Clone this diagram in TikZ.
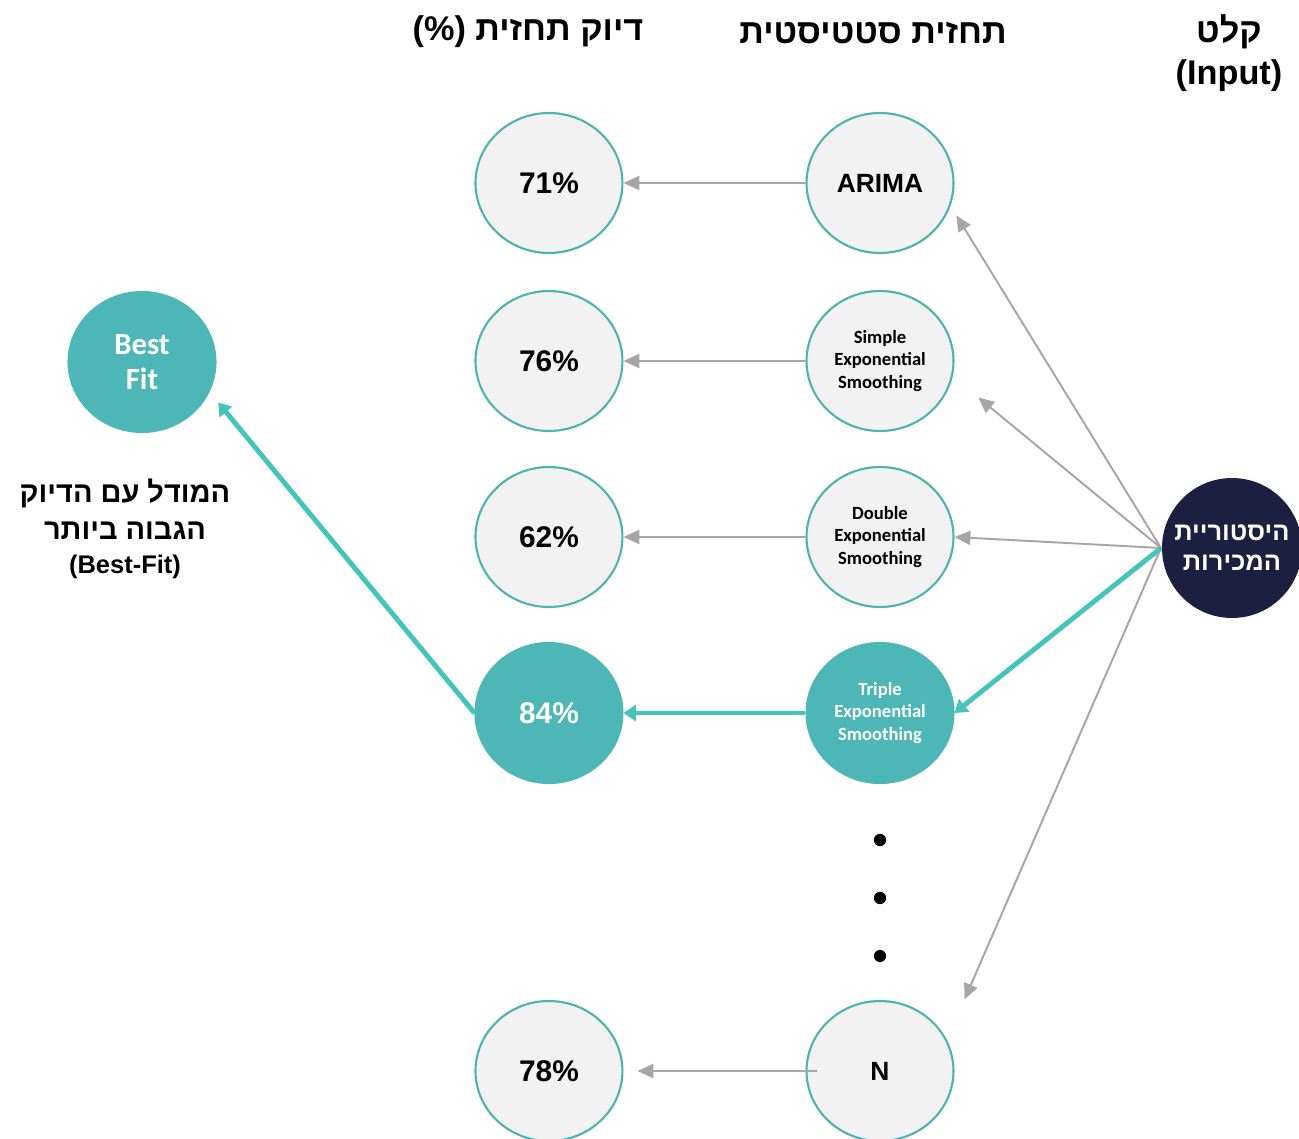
\documentclass[tikz,border=0pt]{standalone}
\usepackage{fontspec}
\setmainfont{Liberation Sans}
\newfontfamily\hebfont[Script=Hebrew]{Liberation Sans}
\newfontfamily\calfont{Carlito}
\TeXXeTstate=1
\usepackage{tikz}
\usetikzlibrary{shapes.geometric,arrows.meta,positioning}

\definecolor{tealfill}{HTML}{4DB6B6}
\definecolor{tealline}{HTML}{4DB3B0}
\definecolor{tealarrow}{HTML}{45C4BC}
\definecolor{navy}{HTML}{1C1F3F}
\definecolor{softgray}{HTML}{F2F2F2}
\definecolor{arrowgray}{HTML}{A6A6A6}

\begin{document}
\begin{tikzpicture}[
    x=0.02cm, y=-0.02cm,
    disc/.style={ellipse, line width=1.2pt, minimum width=2.94cm, minimum height=2.8cm, align=center, inner sep=0pt},
    model/.style={disc, draw=tealline, fill=softgray, font=\calfont\bfseries\fontsize{10.6}{12.8}\selectfont},
    score/.style={disc, draw=tealline, fill=softgray, font=\bfseries\fontsize{17}{20}\selectfont},
    best/.style={disc, draw=tealfill, fill=tealfill, text=white},
    head/.style={font=\bfseries\fontsize{19.5}{24}\selectfont, align=center},
    arrow/.style={-{Triangle[length=9pt,width=8pt]}, draw=arrowgray, line width=1.1pt},
    bestarrow/.style={-{Triangle[length=7pt,width=9pt]}, draw=tealarrow, line width=2.8pt}
]
    \useasboundingbox (0,0) rectangle (1299,1139);

    % headers
    \node[head] (hdScore) at (528,32) {\hebfont\beginR דיוק תחזית (\%)\endR};
    \node[head] (hdModel) at (873,33) {\hebfont\beginR תחזית סטטיסטית\endR};
    \node[head] (hdInput) at (1229,53) {\hebfont\beginR קלט\endR\\(Input)};

    % forecast models
    \node[model, font=\bfseries\fontsize{15}{18}\selectfont] (arima) at (880,183) {ARIMA};
    \node[model] (simple) at (880,361) {Simple\\Exponential\\Smoothing};
    \node[model] (double) at (880,537) {Double\\Exponential\\Smoothing};
    \node[model, best] (triple) at (880,713) {Triple\\Exponential\\Smoothing};
    \node[model, font=\bfseries\fontsize{15}{18}\selectfont] (nmodel) at (880,1071) {N};

    % accuracy
    \node[score, left=3.64cm of arima] (s71) {71\%};
    \node[score, left=3.64cm of simple] (s76) {76\%};
    \node[score, left=3.64cm of double] (s62) {62\%};
    \node[score, best] (s84) [left=3.64cm of triple] {84\%};
    \node[score, left=3.64cm of nmodel] (s78) {78\%};

    % dots
    \foreach \y [count=\i] in {840,898,956}
        \node[circle, fill=black, inner sep=0pt, minimum size=7pt] (dot\i) at (880,\y) {};

    % input
    \node[disc, fill=navy, minimum width=2.8cm, inner xsep=-0.4cm, text=white, font=\hebfont\bfseries\fontsize{14.5}{17}\selectfont] (history) at (1232,548) {\beginR היסטוריית\endR\\\beginR המכירות\endR};

    % best fit
    \node[best, font=\calfont\bfseries\fontsize{17.5}{20}\selectfont] (bestfit) at (142,362) {Best\\Fit};
    \node[align=center, font=\hebfont\bfseries\fontsize{16.5}{21}\selectfont] (bestlabel) at (125,509) {\beginR המודל עם הדיוק\endR\\\beginR הגבוה ביותר\endR};
    \node[font=\bfseries\fontsize{14.5}{17}\selectfont, below=2pt of bestlabel] (bestsub) {(Best-Fit)};

    % connectors
    \draw[arrow] (arima) -- (s71);
    \draw[arrow] (simple) -- (s76);
    \draw[arrow] (double) -- (s62);
    \draw[arrow, shorten <=-0.24cm, shorten >=0.28cm] (nmodel) -- (s78);
    \draw[bestarrow] (triple) -- (s84);

    \draw[arrow, shorten >=0.22cm] (history.west) -- (arima.-18);
    \draw[arrow, shorten >=0.66cm] (history.west) -- (simple.-12);
    \draw[arrow] (history.west) -- (double.east);
    \draw[arrow, shorten >=0.88cm] (history.west) -- (nmodel.25);
    \draw[bestarrow] (history.west) -- (triple.east);
    \draw[bestarrow, shorten >=0.27cm] (s84.west) -- (bestfit.-24);
\end{tikzpicture}
\end{document}
